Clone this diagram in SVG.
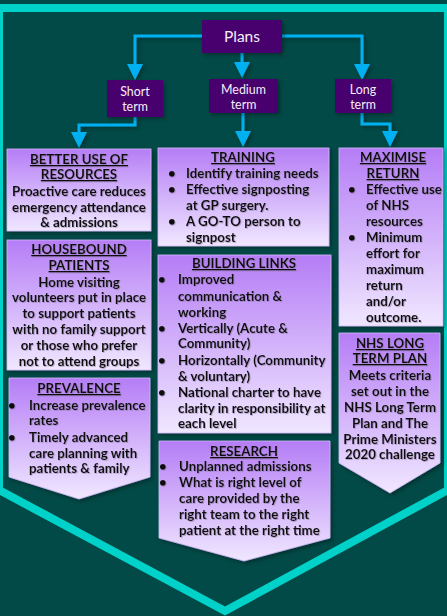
<svg xmlns="http://www.w3.org/2000/svg" width="447" height="616" viewBox="0 0 447 616">
  <defs>
    <linearGradient id="boxFill" x1="0" y1="0" x2="0" y2="1">
      <stop offset="0" stop-color="#B57DF6"/>
      <stop offset="1" stop-color="#F0E7FF"/>
    </linearGradient>
    <filter id="shadow" x="-10%" y="-10%" width="130%" height="130%">
      <feDropShadow dx="2" dy="2" stdDeviation="2" flood-color="#000" flood-opacity="0.35"/>
    </filter>
    <filter id="textShadow" x="-5%" y="-20%" width="110%" height="150%">
      <feDropShadow dx="0.8" dy="0.8" stdDeviation="0.4" flood-color="#7a6a8a" flood-opacity="0.55"/>
    </filter>
    <marker id="arrow" viewBox="0 0 16 16" refX="4" refY="8" markerWidth="16" markerHeight="16" markerUnits="userSpaceOnUse" orient="auto">
      <path d="M0,0 L16,8 L0,16 Z" fill="#00B0F0"/>
    </marker>
  </defs>
  <style>
    .term { fill: #46066E; }
    .termText { font-family: Lato, "Liberation Sans", sans-serif; font-size: 12.4px; fill: #F4EEFA; text-anchor: middle; }
    .box { fill: url(#boxFill); stroke: #D3B8F7; stroke-width: 0.8; filter: url(#shadow); }
    .txt { font-family: Lato, "Liberation Sans", sans-serif; font-size: 13.3px; font-weight: 700; fill: #111; filter: url(#textShadow); }
    .c { text-anchor: middle; }
    .h { text-decoration: underline; }
    .conn { fill: none; stroke: #00B0F0; stroke-width: 3; marker-end: url(#arrow); }
  </style>

  <!-- background and chevron frame -->
  <rect width="447" height="616" fill="#024A47"/>
  <path d="M-1,8 H448 V490 L225,611 L-1,490 Z" fill="none" stroke="#00D2C9" stroke-width="8" stroke-linejoin="miter"/>

  <!-- connectors -->
  <g id="connectors" filter="url(#shadow)">
    <path class="conn" d="M202,36 H135 V68"/>
    <path class="conn" d="M242,53 V66"/>
    <path class="conn" d="M282,36 H362 V68"/>
    <path class="conn" d="M135,117 V125 H79 V136"/>
    <path class="conn" d="M243,113 V135"/>
    <path class="conn" d="M362,113 V124 H390 V135"/>
  </g>

  <!-- heading nodes -->
  <g id="plans">
    <rect class="term" x="202" y="20" width="80" height="33" filter="url(#shadow)"/>
    <text class="termText" x="242" y="42" style="font-size:15.5px">Plans</text>
  </g>
  <g id="short-term">
    <rect class="term" x="107" y="80" width="56" height="37" filter="url(#shadow)"/>
    <text class="termText" x="135" y="96">Short</text>
    <text class="termText" x="135" y="111">term</text>
  </g>
  <g id="medium-term">
    <rect class="term" x="209" y="79" width="69" height="34" filter="url(#shadow)"/>
    <text class="termText" x="243.5" y="94">Medium</text>
    <text class="termText" x="243.5" y="109">term</text>
  </g>
  <g id="long-term">
    <rect class="term" x="335" y="79" width="56" height="34" filter="url(#shadow)"/>
    <text class="termText" x="363" y="94">Long</text>
    <text class="termText" x="363" y="109">term</text>
  </g>

  <!-- short term column -->
  <g id="better-use">
    <rect class="box" x="7" y="149" width="144" height="82"/>
    <text class="txt c h" x="79" y="164">BETTER USE OF</text>
    <text class="txt c h" x="79" y="179">RESOURCES</text>
    <text class="txt c" x="79" y="196">Proactive care reduces</text>
    <text class="txt c" x="79" y="212">emergency attendance</text>
    <text class="txt c" x="79" y="227">&amp; admissions</text>
  </g>
  <g id="housebound">
    <rect class="box" x="7" y="240" width="144" height="130"/>
    <text class="txt c h" x="79" y="254">HOUSEBOUND</text>
    <text class="txt c h" x="79" y="270">PATIENTS</text>
    <text class="txt c" x="79" y="287">Home visiting</text>
    <text class="txt c" x="79" y="302">volunteers put in place</text>
    <text class="txt c" x="79" y="318">to support patients</text>
    <text class="txt c" x="79" y="334">with no family support</text>
    <text class="txt c" x="79" y="350">or those who prefer</text>
    <text class="txt c" x="79" y="366">not to attend groups</text>
  </g>
  <g id="prevalence">
    <path class="box" d="M9,378 H150 V477 L79,499 L9,477 Z"/>
    <text class="txt c h" x="79" y="393">PREVALENCE</text>
    <text class="txt" x="8" y="410">•</text>
    <text class="txt" x="29" y="410">Increase prevalence</text>
    <text class="txt" x="29" y="425">rates</text>
    <text class="txt" x="8" y="442">•</text>
    <text class="txt" x="29" y="442">Timely advanced</text>
    <text class="txt" x="29" y="458">care planning with</text>
    <text class="txt" x="29" y="473">patients &amp; family</text>
  </g>

  <!-- medium term column -->
  <g id="training">
    <rect class="box" x="158" y="148" width="171" height="98"/>
    <text class="txt c h" x="243" y="162">TRAINING</text>
    <text class="txt" x="168" y="178">•</text>
    <text class="txt" x="186" y="178">Identify training needs</text>
    <text class="txt" x="168" y="194">•</text>
    <text class="txt" x="186" y="194">Effective signposting</text>
    <text class="txt" x="186" y="210">at GP surgery.</text>
    <text class="txt" x="168" y="226">•</text>
    <text class="txt" x="186" y="226">A GO-TO person to</text>
    <text class="txt" x="186" y="242">signpost</text>
  </g>
  <g id="building-links">
    <rect class="box" x="158" y="255" width="173" height="178"/>
    <text class="txt c h" x="244" y="268">BUILDING LINKS</text>
    <text class="txt" x="158" y="284">•</text>
    <text class="txt" x="178" y="284">Improved</text>
    <text class="txt" x="178" y="301">communication &amp;</text>
    <text class="txt" x="178" y="317">working</text>
    <text class="txt" x="158" y="333">•</text>
    <text class="txt" x="178" y="333">Vertically (Acute &amp;</text>
    <text class="txt" x="178" y="348">Community)</text>
    <text class="txt" x="158" y="365">•</text>
    <text class="txt" x="178" y="365">Horizontally (Community</text>
    <text class="txt" x="178" y="381">&amp; voluntary)</text>
    <text class="txt" x="158" y="397">•</text>
    <text class="txt" x="178" y="397">National charter to have</text>
    <text class="txt" x="178" y="413">clarity in responsibility at</text>
    <text class="txt" x="178" y="428">each level</text>
  </g>
  <g id="research">
    <path class="box" d="M159,441 H330 V538 L244,561 L159,538 Z"/>
    <text class="txt c h" x="244" y="456">RESEARCH</text>
    <text class="txt" x="159" y="471">•</text>
    <text class="txt" x="179" y="471">Unplanned admissions</text>
    <text class="txt" x="159" y="487">•</text>
    <text class="txt" x="179" y="487">What is right level of</text>
    <text class="txt" x="179" y="503">care provided by the</text>
    <text class="txt" x="179" y="519">right team to the right</text>
    <text class="txt" x="179" y="535">patient at the right time</text>
  </g>

  <!-- long term column -->
  <g id="maximise-return">
    <rect class="box" x="339" y="148" width="104" height="178"/>
    <text class="txt c h" x="393" y="162">MAXIMISE</text>
    <text class="txt c h" x="393" y="178">RETURN</text>
    <text class="txt" x="348" y="194">•</text>
    <text class="txt" x="366" y="194">Effective use</text>
    <text class="txt" x="366" y="210">of NHS</text>
    <text class="txt" x="366" y="226">resources</text>
    <text class="txt" x="348" y="242">•</text>
    <text class="txt" x="366" y="242">Minimum</text>
    <text class="txt" x="366" y="258">effort for</text>
    <text class="txt" x="366" y="274">maximum</text>
    <text class="txt" x="366" y="290">return</text>
    <text class="txt" x="366" y="306">and/or</text>
    <text class="txt" x="366" y="322">outcome.</text>
  </g>
  <g id="nhs-long-term-plan">
    <path class="box" d="M339,333 H440 V463 L390,493 L339,463 Z"/>
    <text class="txt c h" x="390" y="348">NHS LONG</text>
    <text class="txt c h" x="390" y="363">TERM PLAN</text>
    <text class="txt c" x="390" y="380">Meets criteria</text>
    <text class="txt c" x="390" y="396">set out in the</text>
    <text class="txt c" x="390" y="412">NHS Long Term</text>
    <text class="txt c" x="390" y="428">Plan and The</text>
    <text class="txt c" x="390" y="444">Prime Ministers</text>
    <text class="txt c" x="390" y="459">2020 challenge</text>
  </g>
</svg>
